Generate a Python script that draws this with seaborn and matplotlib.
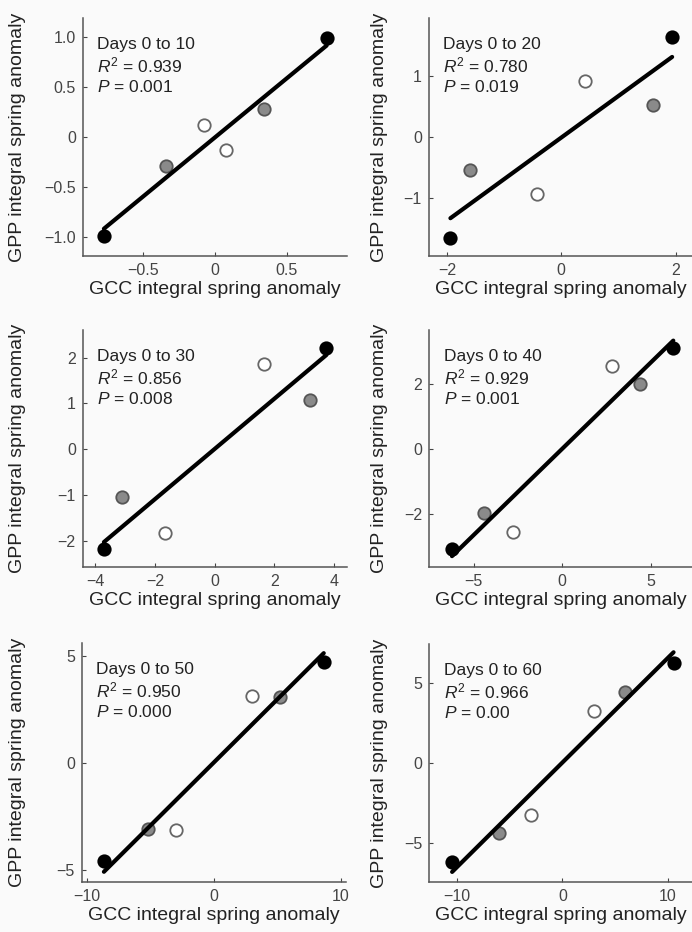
import numpy as np
import pandas as pd
import matplotlib
matplotlib.use("Agg")
import matplotlib.pyplot as plt
import seaborn as sns

############################################################################
# DATA
############################################################################

groups = ["black", "black", "gray", "gray", "open", "open"]

x_d10 = [-0.775, 0.78, -0.344, 0.344, -0.075, 0.075]
y_d10 = [-0.99, 0.99, -0.29, 0.28, 0.12, -0.13]

x_d20 = [-1.94, 1.94, -1.59, 1.60, -0.42, 0.42]
y_d20 = [-1.66, 1.64, -0.54, 0.52, -0.94, 0.93]

x_d30 = [-3.71, 3.74, -3.12, 3.18, -1.65, 1.64]
y_d30 = [-2.17, 2.21, -1.05, 1.07, -1.83, 1.85]

x_d40 = [-6.22, 6.27, -4.40, 4.40, -2.77, 2.81]
y_d40 = [-3.07, 3.12, -1.97, 2.01, -2.56, 2.58]

x_d50 = [-8.65, 8.67, -5.21, 5.21, -2.99, 3.05]
y_d50 = [-4.60, 4.69, -3.08, 3.07, -3.13, 3.13]

x_d60 = [-10.44, 10.53, -6.04, 5.97, -2.99, 2.98]
y_d60 = [-6.19, 6.26, -4.38, 4.40, -3.23, 3.25]

panel_titles = ["Days 0 to 10", "Days 0 to 20", "Days 0 to 30",
                "Days 0 to 40", "Days 0 to 50", "Days 0 to 60"]
r2_labels = ["0.939", "0.780", "0.856", "0.929", "0.950", "0.966"]
p_labels = ["0.001", "0.019", "0.008", "0.001", "0.000", "0.00"]

xticks = [[-0.5, 0, 0.5], [-2, 0, 2], [-4, -2, 0, 2, 4],
          [-5, 0, 5], [-10, 0, 10], [-10, 0, 10]]
yticks = [[-1.0, -0.5, 0, 0.5, 1.0], [-1, 0, 1], [-2, -1, 0, 1, 2],
          [-2, 0, 2], [-5, 0, 5], [-5, 0, 5]]
xlims = [(-0.923, 0.92), (-2.32, 2.3), (-4.42, 4.42),
         (-7.5, 7.4), (-10.4, 10.4), (-12.6, 12.4)]
ylims = [(-1.19, 1.19), (-1.96, 1.96), (-2.57, 2.6),
         (-3.64, 3.68), (-5.58, 5.6), (-7.44, 7.42)]

############################################################################

W, H = 692, 932

# axes boxes in pixels: left, top, width, height
boxes = [(82.7, 18, 264, 238), (428.7, 18, 264, 238),
         (82.7, 330, 264, 237), (429.3, 330, 264, 237),
         (81.7, 643, 264, 239), (429.3, 644, 264, 238)]

# horizontal centre of the rotated y label, in pixels
ylabel_px = [18, 380, 18, 380, 18, 380]

marker_style = {
    "black": dict(facecolor="black", edgecolor="black"),
    "gray": dict(facecolor="#8a8a8a", edgecolor="#555555"),
    "open": dict(facecolor="white", edgecolor="#666666"),
}


def fmt_tick(v):
    s = ("%g" % v) if not isinstance(v, float) or v == 0 else "%.1f" % v
    return s.replace("-", "\u2212")


def draw_panel(ax, i, xs, ys):
    df = pd.DataFrame({"x": xs, "y": ys, "group": groups})
    for g, sub in df.groupby("group"):
        sns.scatterplot(data=sub, x="x", y="y", ax=ax, s=80, linewidth=1.3,
                        zorder=2, legend=False, **marker_style[g])
    sns.regplot(data=df, x="x", y="y", ax=ax, scatter=False, ci=None,
                line_kws=dict(color="black", lw=3.0, zorder=3))

    ax.set_xlim(*xlims[i])
    ax.set_ylim(*ylims[i])
    ax.set_xticks(xticks[i])
    ax.set_yticks(yticks[i])
    ax.set_xticklabels([fmt_tick(v) for v in xticks[i]])
    ax.set_yticklabels([fmt_tick(v) for v in yticks[i]])
    ax.tick_params(direction="in", length=3, width=0.8, colors="#444444",
                   labelsize=11.5, pad=5)
    ax.set_xlabel("GCC integral spring anomaly", fontsize=14, color="#222222", labelpad=2)
    ax.set_ylabel("GPP integral spring anomaly", fontsize=14, color="#222222")
    l, t, w, h = boxes[i]
    ax.yaxis.set_label_coords((ylabel_px[i] - l) / w, 0.5)
    ax.yaxis.label.set_verticalalignment("center")
    sns.despine(ax=ax)
    for sp in ["left", "bottom"]:
        ax.spines[sp].set_color("#555555")
        ax.spines[sp].set_linewidth(1.1)
    ax.set_facecolor("none")

    ax.text(0.055, 0.89, panel_titles[i], transform=ax.transAxes,
            fontsize=12.5, color="#222222", va="center")
    ax.text(0.055, 0.80, r"$R^2$ = " + r2_labels[i], transform=ax.transAxes,
            fontsize=12.5, color="#222222", va="center")
    ax.text(0.055, 0.71, r"$P$ = " + p_labels[i], transform=ax.transAxes,
            fontsize=12.5, color="#222222", va="center")


def main():
    sns.set_theme(style="ticks")
    plt.rcParams["font.family"] = ["Liberation Sans", "DejaVu Sans"]
    plt.rcParams["mathtext.fontset"] = "custom"
    plt.rcParams["mathtext.rm"] = "Liberation Sans"
    plt.rcParams["mathtext.it"] = "Liberation Sans:italic"

    fig = plt.figure(figsize=(W / 100, H / 100), dpi=100, facecolor="#fafafa")

    all_x = [x_d10, x_d20, x_d30, x_d40, x_d50, x_d60]
    all_y = [y_d10, y_d20, y_d30, y_d40, y_d50, y_d60]

    for i, (l, t, w, h) in enumerate(boxes):
        ax = fig.add_axes([l / W, 1 - (t + h) / H, w / W, h / H])
        draw_panel(ax, i, all_x[i], all_y[i])

    fig.savefig("out.png", dpi=100, facecolor=fig.get_facecolor())


if __name__ == "__main__":
    main()
